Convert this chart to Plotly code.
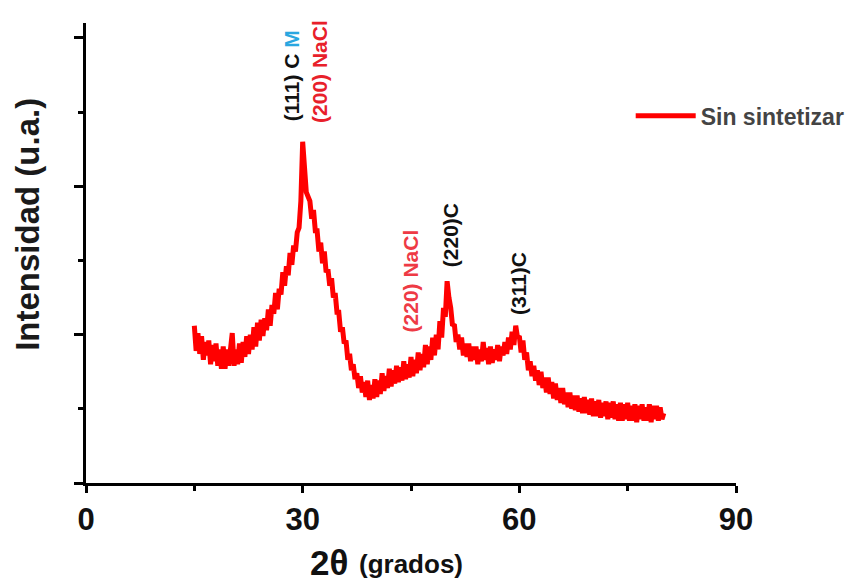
import numpy as np
import plotly.graph_objects as go

# 2θ sampling (degrees) and intensity (a.u.)
two_theta_start = 15.0
two_theta_step = 0.25
intensity = [
    1060, 890, 1010, 870,   # 15
    990, 830, 950, 860,     # 16
    960, 800, 930, 820,     # 17
    940, 790, 900, 770,     # 18
    920, 770, 900, 790,     # 19
    900, 1010, 790, 900,    # 20
    800, 940, 810, 950,     # 21
    850, 990, 870, 1000,    # 22
    900, 1050, 920, 1080,   # 23
    960, 1100, 990, 1110,   # 24
    1030, 1170, 1060, 1200, # 25
    1140, 1280, 1170, 1310, # 26
    1270, 1420, 1330, 1460, # 27
    1400, 1550, 1470, 1600, # 28
    1560, 1690, 1720, 1900, # 29
    2300, 2150, 1960, 1930, # 30
    1900, 1780, 1840, 1700, # 31
    1700, 1560, 1620, 1480, # 32
    1560, 1420, 1440, 1330, # 33
    1380, 1250, 1280, 1150, # 34
    1150, 1020, 1050, 940,  # 35
    960, 830, 870, 760,     # 36
    800, 700, 740, 640,     # 37
    720, 610, 680, 580,     # 38
    690, 560, 660, 570,     # 39
    700, 580, 690, 600,     # 40
    740, 620, 720, 640,     # 41
    770, 650, 760, 670,     # 42
    790, 680, 780, 690,     # 43
    820, 700, 800, 710,     # 44
    850, 720, 830, 740,     # 45
    880, 760, 870, 780,     # 46
    930, 800, 920, 830,     # 47
    980, 860, 1000, 900,    # 48
    1090, 980, 1180, 1120,  # 49
    1360, 1250, 1180, 1060, # 50
    1070, 950, 1000, 900,   # 51
    980, 860, 940, 850,     # 52
    940, 820, 920, 830,     # 53
    920, 800, 900, 820,     # 54
    950, 830, 910, 800,     # 55
    920, 810, 900, 830,     # 56
    930, 820, 920, 860,     # 57
    950, 870, 980, 900,     # 58
    1020, 930, 1060, 980,   # 59
    990, 880, 960, 830,     # 60
    880, 760, 820, 720,     # 61
    790, 690, 760, 660,     # 62
    750, 640, 710, 610,     # 63
    710, 600, 680, 570,     # 64
    670, 560, 640, 540,     # 65
    640, 530, 610, 510,     # 66
    610, 500, 590, 490,     # 67
    590, 480, 570, 470,     # 68
    580, 470, 560, 460,     # 69
    570, 450, 550, 450,     # 70
    560, 440, 540, 450,     # 71
    550, 430, 540, 440,     # 72
    550, 430, 530, 420,     # 73
    540, 420, 530, 430,     # 74
    540, 420, 520, 420,     # 75
    530, 410, 520, 430,     # 76
    530, 420, 510, 420,     # 77
    530, 410, 520, 430,     # 78
    520, 420, 510, 430,     # 79
    470,                    # 80
]
two_theta = two_theta_start + two_theta_step * np.arange(len(intensity))

series_name = "Sin sintetizar"
x_ticks = [0, 30, 60, 90]
x_title_main = "2θ"
x_title_unit = "(grados)"
y_title = "Intensidad (u.a.)"

# peak labels: (text, 2θ position, intensity position, colour)
peak_labels = [
    ("(111) C <span style='color:#2aa7e0'>M</span>", 28.5, 2747, "#111111"),
    ("(200) NaCl", 32.4, 2770, "#e8202a"),
    ("(220) NaCl", 44.9, 1360, "#ee3a45"),
    ("(220)C", 50.4, 1670, "#111111"),
    ("(311)C", 59.8, 1347, "#111111"),
]

FONT = "Liberation Sans, Arial"

fig = go.Figure()
fig.add_trace(go.Scatter(
    x=two_theta, y=intensity, mode="lines", name=series_name,
    line=dict(color="#ff0000", width=5),
))

for text, xp, yp, col in peak_labels:
    fig.add_annotation(
        x=xp, y=yp, xref="x", yref="y", text=text, textangle=-90,
        showarrow=False, xanchor="center", yanchor="middle",
        font=dict(family=FONT, size=21, color=col, weight="bold"),
    )

fig.add_annotation(
    x=-0.091, y=0.563, xref="paper", yref="paper", text=y_title, textangle=-90,
    showarrow=False, xanchor="center", yanchor="middle",
    font=dict(family=FONT, size=33, color="#1a1a1a", weight="bold"),
)
fig.add_annotation(
    x=0.374, y=-0.172, xref="paper", yref="paper", text=x_title_main,
    showarrow=False, xanchor="center", yanchor="middle",
    font=dict(family=FONT, size=35, color="#111111", weight="bold"),
)
fig.add_annotation(
    x=0.5, y=-0.176, xref="paper", yref="paper", text=x_title_unit,
    showarrow=False, xanchor="center", yanchor="middle",
    font=dict(family=FONT, size=26, color="#111111", weight="bold"),
)

fig.update_layout(
    width=849, height=583,
    margin=dict(l=86, r=113, t=23, b=100, autoexpand=False),
    paper_bgcolor="white", plot_bgcolor="white",
    showlegend=True,
    legend=dict(
        x=0.838, y=0.798, xanchor="left", yanchor="middle",
        bgcolor="rgba(0,0,0,0)", itemwidth=60,
        font=dict(family=FONT, size=23, color="#444444", weight="bold"),
    ),
    xaxis=dict(
        range=[0, 90], tickvals=x_ticks, ticktext=[str(v) for v in x_ticks],
        showline=True, linecolor="black", linewidth=3,
        ticks="outside", ticklen=7, tickwidth=3, tickcolor="black",
        minor=dict(dtick=15, ticks="outside", ticklen=5, tickwidth=3, tickcolor="black"),
        showgrid=False, zeroline=False,
        tickfont=dict(family=FONT, size=31, color="#111111", weight="bold"),
    ),
    yaxis=dict(
        range=[0, 3100], dtick=1000, showticklabels=False,
        showline=True, linecolor="black", linewidth=3,
        ticks="outside", ticklen=9, tickwidth=3, tickcolor="black",
        minor=dict(dtick=500, ticks="outside", ticklen=5, tickwidth=3, tickcolor="black"),
        showgrid=False, zeroline=False,
    ),
)

fig.write_html(
    "out.html",
    config={"displayModeBar": False},
    post_script="document.body.style.margin='0';document.body.style.overflow='hidden';",
)
